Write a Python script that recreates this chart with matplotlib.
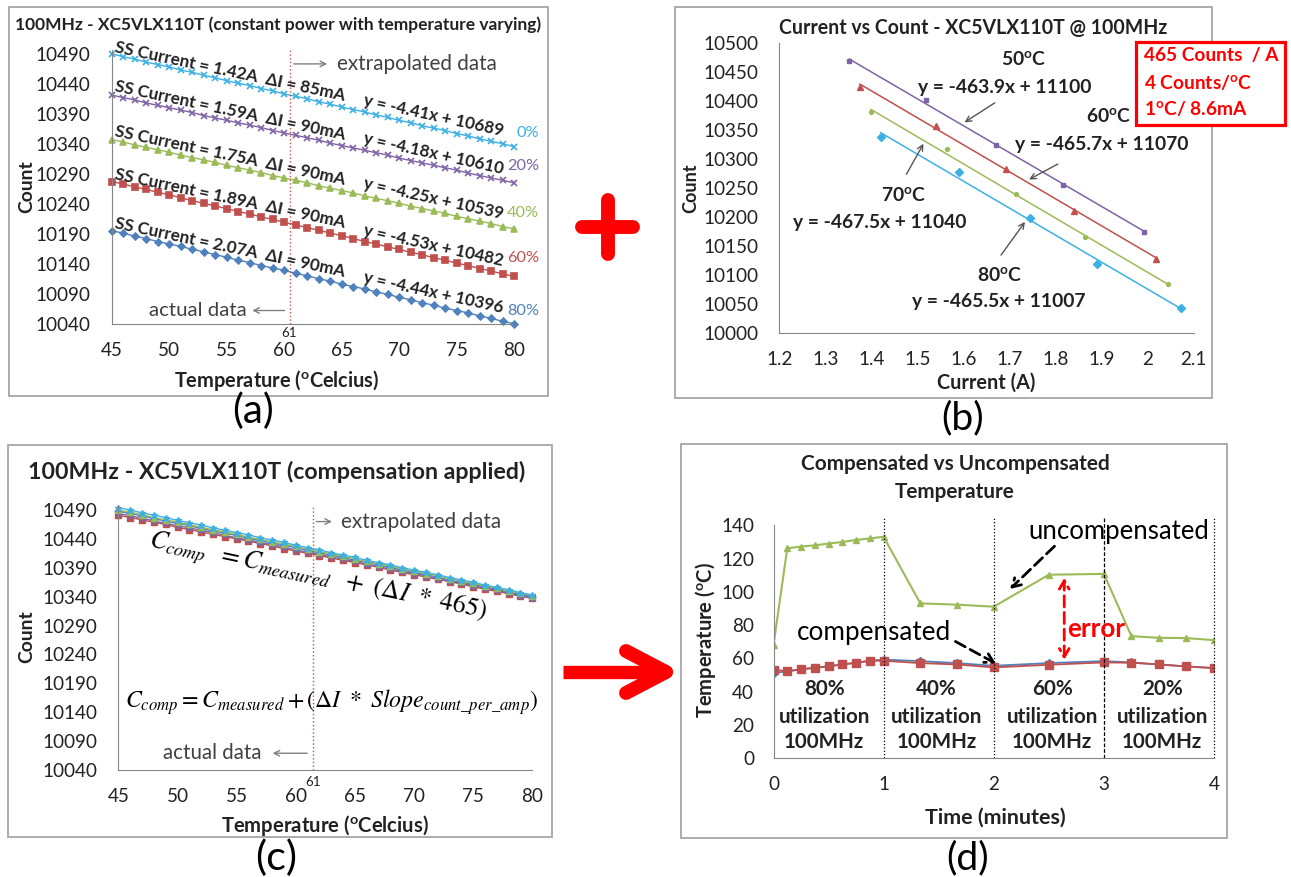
import matplotlib
matplotlib.use('Agg')
import matplotlib.pyplot as plt
from matplotlib.patches import Rectangle
from matplotlib.lines import Line2D

plt.rcParams['font.family'] = ['Lato', 'DejaVu Sans']

W, H = 1291, 877

# ---------------- data ----------------
# (a) count vs temperature, constant power, five utilisation levels
temps = list(range(45, 81))
cnt_0 = [10491, 10486, 10482, 10477, 10473, 10469, 10464, 10460, 10455, 10451, 10446, 10442,
         10438, 10433, 10429, 10424, 10420, 10416, 10411, 10407, 10402, 10398, 10394, 10389,
         10385, 10380, 10376, 10371, 10367, 10363, 10358, 10354, 10349, 10345, 10341, 10336]
cnt_20 = [10422, 10418, 10414, 10409, 10405, 10401, 10397, 10393, 10388, 10384, 10380, 10376,
          10372, 10368, 10363, 10359, 10355, 10351, 10347, 10342, 10338, 10334, 10330, 10326,
          10322, 10317, 10313, 10309, 10305, 10301, 10297, 10292, 10288, 10284, 10280, 10276]
cnt_40 = [10348, 10344, 10339, 10335, 10331, 10327, 10322, 10318, 10314, 10310, 10305, 10301,
          10297, 10293, 10288, 10284, 10280, 10276, 10271, 10267, 10263, 10259, 10254, 10250,
          10246, 10242, 10237, 10233, 10229, 10225, 10220, 10216, 10212, 10208, 10203, 10199]
cnt_60 = [10278, 10274, 10269, 10265, 10260, 10256, 10251, 10246, 10242, 10237, 10233, 10228,
          10224, 10219, 10215, 10210, 10206, 10201, 10197, 10192, 10188, 10183, 10178, 10174,
          10169, 10165, 10160, 10156, 10151, 10147, 10142, 10138, 10133, 10129, 10124, 10120]
cnt_80 = [10196, 10192, 10187, 10183, 10178, 10174, 10170, 10165, 10161, 10156, 10152, 10147,
          10143, 10138, 10134, 10130, 10125, 10121, 10116, 10112, 10107, 10103, 10099, 10094,
          10090, 10085, 10081, 10076, 10072, 10067, 10063, 10059, 10054, 10050, 10045, 10041]
util_labels = ['0%', '20%', '40%', '60%', '80%']
util_label_y = [10359, 10303, 10226, 10150, 10062]
ss_current = ['1.42A', '1.59A', '1.75A', '1.89A', '2.07A']
delta_i = ['85mA', '90mA', '90mA', '90mA', '90mA']
fit_a = ['y = -4.41x + 10689', 'y = -4.18x + 10610', 'y = -4.25x + 10539',
         'y = -4.53x + 10482', 'y = -4.44x + 10396']

# (b) count vs current at four temperatures
cur_50 = [1.352, 1.518, 1.670, 1.816, 1.992]
cnt_50 = [10469, 10402, 10325, 10256, 10175]
cur_60 = [1.375, 1.540, 1.692, 1.839, 2.019]
cnt_60b = [10425, 10358, 10284, 10211, 10128]
cur_70 = [1.399, 1.564, 1.714, 1.863, 2.045]
cnt_70 = [10381, 10318, 10241, 10166, 10085]
cur_80 = [1.420, 1.590, 1.744, 1.890, 2.072]
cnt_80b = [10339, 10278, 10199, 10120, 10043]
slopes_b = [-463.9, -465.7, -467.5, -465.5]
icepts_b = [11100, 11070, 11040, 11007]
temp_labels_b = ['50', '60', '70', '80']

# (c) compensated counts
comp_0 = [10494, 10490, 10485, 10481, 10477, 10472, 10468, 10464, 10459, 10455, 10451, 10447,
          10442, 10438, 10434, 10429, 10425, 10421, 10416, 10412, 10408, 10403, 10399, 10395,
          10390, 10386, 10382, 10378, 10373, 10369, 10365, 10360, 10356, 10352, 10347, 10343]
comp_20 = [10484, 10480, 10476, 10471, 10467, 10463, 10459, 10455, 10451, 10446, 10442, 10438,
           10434, 10430, 10426, 10421, 10417, 10413, 10409, 10405, 10401, 10396, 10392, 10388,
           10384, 10380, 10376, 10371, 10367, 10363, 10359, 10355, 10351, 10346, 10342, 10338]
comp_40 = [10490, 10486, 10482, 10477, 10473, 10469, 10465, 10460, 10456, 10452, 10448, 10443,
           10439, 10435, 10431, 10427, 10422, 10418, 10414, 10410, 10405, 10401, 10397, 10393,
           10388, 10384, 10380, 10376, 10371, 10367, 10363, 10359, 10355, 10350, 10346, 10342]
comp_60 = [10481, 10477, 10473, 10469, 10465, 10460, 10456, 10452, 10448, 10444, 10440, 10436,
           10432, 10428, 10423, 10419, 10415, 10411, 10407, 10403, 10399, 10395, 10391, 10386,
           10382, 10378, 10374, 10370, 10366, 10362, 10357, 10353, 10349, 10345, 10341, 10337]
comp_80 = [10488, 10484, 10480, 10475, 10471, 10467, 10463, 10458, 10454, 10450, 10446, 10441,
           10437, 10433, 10429, 10425, 10420, 10416, 10412, 10408, 10403, 10399, 10395, 10391,
           10386, 10382, 10378, 10374, 10369, 10365, 10361, 10357, 10353, 10348, 10344, 10340]

# (d) temperature over time
time_min = [0, 0.125, 0.25, 0.375, 0.5, 0.625, 0.75, 0.875, 1.0, 1.333, 1.667, 2.0,
            2.5, 3.0, 3.25, 3.5, 3.75, 4.0]
temp_uncomp = [68.0, 126.2, 127.2, 128.0, 129.0, 130.0, 131.2, 132.1, 133.1, 93.1, 92.3, 91.1,
               110.3, 110.8, 73.4, 72.4, 72.2, 71.0]
temp_comp = [53.3, 52.3, 53.5, 54.4, 55.2, 56.4, 57.4, 58.6, 58.6, 57.2, 56.4, 54.6,
             56.2, 57.6, 57.4, 56.4, 55.2, 54.2]
temp_comp2 = [51.2, 52.3, 53.4, 54.4, 55.3, 56.4, 57.4, 58.6, 59.3, 58.4, 57.2, 55.6,
              57.2, 58.4, 57.6, 56.4, 55.2, 54.2]
phase_util = ['80%', '40%', '60%', '20%']

# ---------------- helpers ----------------
CYAN, PURPLE, GREEN, RED, BLUE = '#3CB0E2', '#7F63A6', '#9BBB59', '#C0504D', '#4F81BD'
TXT = '#222222'
TICK = 13.6

fig = plt.figure(figsize=(W / 100, H / 100), dpi=100)
renderer = fig.canvas.get_renderer()


def px_axes(l, t, r, b):
    ax = fig.add_axes([l / W, 1 - b / H, (r - l) / W, (b - t) / H])
    for s in ['top', 'right']:
        ax.spines[s].set_visible(False)
    for s in ['left', 'bottom']:
        ax.spines[s].set_color('#868686')
    ax.tick_params(length=0, labelsize=TICK, colors=TXT)
    return ax


def px_box(l, t, r, b, color='#A6A6A6', lw=1.3):
    fig.add_artist(Rectangle((l / W, 1 - b / H), (r - l) / W, (b - t) / H,
                             transform=fig.transFigure, fill=False, ec=color, lw=lw))


def px_text(x, y, s, **kw):
    kw.setdefault('ha', 'center')
    kw.setdefault('va', 'center')
    kw.setdefault('color', TXT)
    return fig.text(x / W, 1 - y / H, s, **kw)


def px_line(xs, ys, **kw):
    fig.add_artist(Line2D([x / W for x in xs], [1 - y / H for y in ys], **kw))


def fit(t, size_px, rot=None, vertical=False):
    # scale font so the text spans size_px pixels (measured unrotated)
    bb = t.get_window_extent(renderer)
    cur = bb.height if vertical else bb.width
    t.set_fontsize(t.get_fontsize() * size_px / cur)
    if rot is not None:
        t.set_rotation(rot)
    return t


deg = r'$^{\mathregular{o}}$'

# ---------------- (a) ----------------
px_box(9, 7, 548, 396)
ax = px_axes(111.5, 50.1, 514, 324.3)
series_a = [(cnt_0, CYAN, 'x', 4.5), (cnt_20, PURPLE, 'x', 4.5), (cnt_40, GREEN, '^', 4.5),
            (cnt_60, RED, 's', 5), (cnt_80, BLUE, 'D', 3.5)]
for i, (vals, col, mk, ms) in enumerate(series_a):
    ax.plot(temps, vals, color=col, lw=1.0, marker=mk, ms=ms, mew=1.2, clip_on=False)
    t = ax.text(55.3, vals[10] + 16, f'SS Current = {ss_current[i]}  \u0394I = {delta_i[i]}',
                rotation_mode='anchor', ha='center', va='center',
                fontsize=12, fontweight='bold', color=TXT)
    fit(t, 235, rot=-12)
    t = ax.text(73.0, vals[28] + 20, fit_a[i], rotation_mode='anchor',
                ha='center', va='center', fontsize=12, fontweight='bold', color=TXT)
    fit(t, 143, rot=-12.5)
    t = ax.text(82.2, util_label_y[i], util_labels[i], color=col, fontsize=13, ha='right', va='center')
    if i == 1:
        fit(t, 32)
        util_fs = t.get_fontsize()
    elif i > 1:
        t.set_fontsize(util_fs)
ax.texts[2].set_fontsize(util_fs)
ax.set_xlim(45, 80)
ax.set_ylim(10040, 10497)
ax.set_xticks(range(45, 81, 5))
ax.set_yticks(range(10040, 10491, 50))
ax.tick_params(axis='y', pad=15)
ax.tick_params(axis='x', pad=13)
ax.axvline(60.5, color=RED, lw=1, ls=':')
ax.annotate('', xy=(64.0, 10474), xytext=(60.6, 10474),
            arrowprops=dict(arrowstyle='->', color='#808080', lw=1))
fit(ax.text(64.6, 10474, 'extrapolated data', fontsize=14, color='#404040', va='center'), 160)
ax.annotate('', xy=(57.0, 10063), xytext=(60.3, 10063),
            arrowprops=dict(arrowstyle='->', color='#808080', lw=1))
fit(ax.text(56.8, 10063, 'actual data', fontsize=14, color='#404040', va='center', ha='right'), 98)
px_text(289, 333, '61', fontsize=9.5)
fit(px_text(278, 25, '100MHz - XC5VLX110T (constant power with temperature varying)',
            fontsize=12, fontweight='bold'), 524)
fit(px_text(27, 187, 'Count', rotation=90, fontsize=14, fontweight='bold'), 53, vertical=True)
fit(px_text(277, 381, 'Temperature (' + deg + 'Celcius)', fontsize=14, fontweight='bold'), 206)
fit(px_text(253, 411, '(a)', fontsize=24, color='black'), 42)

# ---------------- (b) ----------------
px_box(675, 7, 1212, 398)
ax = px_axes(779.3, 43.3, 1193.8, 333.3)
series_b = [(cur_50, cnt_50, PURPLE, 's', 3.5), (cur_60, cnt_60b, RED, '^', 4),
            (cur_70, cnt_70, GREEN, 'o', 2.8), (cur_80, cnt_80b, CYAN, 'D', 4)]
for i, (xs, ys, col, mk, ms) in enumerate(series_b):
    ax.plot(xs, ys, ls='none', marker=mk, ms=ms, color=col)
    xe = [min(xs), max(xs)]
    ax.plot(xe, [slopes_b[i] * x + icepts_b[i] for x in xe], color=col, lw=1.1)
ax.set_xlim(1.2, 2.1)
ax.set_ylim(10000, 10500)
ax.set_xticks([1.2, 1.3, 1.4, 1.5, 1.6, 1.7, 1.8, 1.9, 2.0, 2.1])
ax.set_xticklabels(['1.2', '1.3', '1.4', '1.5', '1.6', '1.7', '1.8', '1.9', '2', '2.1'])
ax.set_yticks(range(10000, 10501, 50))
ax.tick_params(axis='y', pad=15)
ax.tick_params(axis='x', pad=13)
lab_pos = [(1.731, 10471), (1.916, 10373), (1.471, 10238), (1.678, 10099)]
eq_pos = [(1.689, 10423), (1.899, 10325), (1.419, 10191), (1.676, 10054)]
arrows_b = [((1.673, 10400), (1.597, 10361)), ((1.810, 10294), (1.737, 10263)),
            ((1.473, 10270), (1.516, 10331)), ((1.678, 10131), (1.737, 10196))]
t = ax.text(0, 0, 'y = -463.9x + 11100', fontsize=13, fontweight='bold')
fit(t, 173)
b_fs = t.get_fontsize()
t.remove()
for i in range(4):
    ax.text(*lab_pos[i], temp_labels_b[i] + deg + 'C', fontsize=b_fs, fontweight='bold',
            ha='center', va='center', color=TXT)
    ax.text(*eq_pos[i], f'y = {slopes_b[i]}x + {icepts_b[i]}', fontsize=b_fs,
            fontweight='bold', ha='center', va='center', color=TXT)
    ax.annotate('', xy=arrows_b[i][1], xytext=arrows_b[i][0],
                arrowprops=dict(arrowstyle='->', color='#555555', lw=1))
fit(px_text(973, 28, 'Current vs Count - XC5VLX110T @ 100MHz', fontsize=14, fontweight='bold'), 390)
fit(px_text(691, 188, 'Count', rotation=90, fontsize=14, fontweight='bold'), 50, vertical=True)
fit(px_text(986, 383, 'Current (A)', fontsize=14, fontweight='bold'), 99)
fit(px_text(963, 418, '(b)', fontsize=24, color='black'), 43)
fig.add_artist(Rectangle((1136 / W, 1 - 125 / H), 149 / W, 83.3 / H, transform=fig.transFigure,
                         fc='white', ec='red', lw=2.3))
t = px_text(1144, 55, '465 Counts  / A', ha='left', fontsize=14, fontweight='bold', color='red')
fit(t, 136)
for y, s in zip([83.3, 109.3], ['4 Counts/' + deg + 'C', '1' + deg + 'C/ 8.6mA']):
    px_text(1144, y, s, ha='left', fontsize=t.get_fontsize(), fontweight='bold', color='red')

# big plus
px_line([582, 633], [226.7, 226.7], lw=10, color='red', solid_capstyle='round')
px_line([607.5, 607.5], [200, 253.5], lw=10, color='red', solid_capstyle='round')

# ---------------- (c) ----------------
px_box(8, 445, 552, 837)
ax = px_axes(118.4, 505.4, 532.3, 770)
series_c = [(comp_60, RED, 's', 4.5), (comp_20, PURPLE, 'x', 4.5), (comp_80, BLUE, 'D', 3.5),
            (comp_40, GREEN, '^', 4.5), (comp_0, CYAN, '*', 5)]
for vals, col, mk, ms in series_c:
    ax.plot(temps, vals, color=col, lw=1.0, marker=mk, ms=ms, mew=1.0, clip_on=False)
ax.set_xlim(45, 80)
ax.set_ylim(10040, 10498)
ax.set_xticks(range(45, 81, 5))
ax.set_yticks(range(10040, 10491, 50))
ax.tick_params(axis='y', pad=15)
ax.tick_params(axis='x', pad=13)
ax.axvline(61.45, color=RED, lw=1, ls=':')
ax.annotate('', xy=(63.3, 10470), xytext=(61.5, 10470),
            arrowprops=dict(arrowstyle='->', color='#808080', lw=1))
fit(ax.text(63.8, 10470, 'extrapolated data', fontsize=14, color='#404040', va='center'), 161)
ax.annotate('', xy=(57.8, 10069), xytext=(61.2, 10069),
            arrowprops=dict(arrowstyle='->', color='#808080', lw=1))
fit(ax.text(57.1, 10069, 'actual data', fontsize=14, color='#404040', va='center', ha='right'), 99)
t = ax.text(61.9, 10374, r'$C_{comp}\ \ =C_{measured}\ \ +\ (\Delta I\ *\ 465)$',
            math_fontfamily='stix', fontsize=19, rotation_mode='anchor',
            ha='center', va='center', color='black')
fit(t, 345, rot=-12)
t = ax.text(63.05, 10158, r'$C_{comp}=C_{measured}+(\Delta I\ *\ Slope_{count\_per\_amp})$',
            math_fontfamily='stix', fontsize=17, ha='center', va='center', color='black')
fit(t, 413)
px_text(313, 782, '61', fontsize=9.5)
fit(px_text(277, 472, '100MHz - XC5VLX110T (compensation applied)', fontsize=16, fontweight='bold'), 496)
fit(px_text(27, 637, 'Count', rotation=90, fontsize=14, fontweight='bold'), 53, vertical=True)
fit(px_text(325, 825, 'Temperature (' + deg + 'Celcius)', fontsize=14, fontweight='bold'), 209)
fit(px_text(276, 858, '(c)', fontsize=24, color='black'), 42)

# big arrow
px_line([562.7, 652], [672.3, 672.3], lw=9.6, color='red', solid_capstyle='butt')
px_line([626, 666], [651, 672], lw=10, color='red', solid_capstyle='round')
px_line([626, 666], [693, 672], lw=10, color='red', solid_capstyle='round')

# ---------------- (d) ----------------
px_box(681, 444, 1227, 838)
ax = px_axes(773.5, 525.3, 1214, 758.3)
ax.plot(time_min, temp_comp2, color=BLUE, lw=1.3, marker='D', ms=4)
ax.plot(time_min, temp_comp, color=RED, lw=1.3, marker='s', ms=5.5)
ax.plot(time_min, temp_uncomp, color=GREEN, lw=1.5, marker='^', ms=5)
for tm, ls in zip([1, 2, 3, 4], [':', ':', (0, (3, 1.5)), ':']):
    ax.plot([tm, tm], [0, 145], color='black', lw=0.9, ls=ls, clip_on=False)
ax.set_xlim(0, 4)
ax.set_ylim(0, 140)
ax.set_xticks([0, 1, 2, 3, 4])
ax.set_yticks(range(0, 141, 20))
ax.tick_params(axis='y', pad=14)
ax.tick_params(axis='x', pad=13)
t = ax.text(0, 0, 'utilization', fontsize=14, fontweight='bold')
fit(t, 92)
u_fs = t.get_fontsize()
t.remove()
for xc, u in zip([0.46, 1.48, 2.53, 3.53], phase_util):
    for yy, s in zip([41.4, 25, 9.5], [u, 'utilization', '100MHz']):
        ax.text(xc, yy, s, ha='center', va='center', fontsize=u_fs, fontweight='bold', color=TXT)
fit(ax.text(3.14, 136.5, 'uncompensated', ha='center', va='center', fontsize=19, color='black'), 181)
fit(ax.text(0.915, 75.3, 'compensated', ha='center', va='center', fontsize=19, color='black'), 154)
ax.annotate('', xy=(2.13, 100.6), xytext=(2.57, 128.6),
            arrowprops=dict(arrowstyle='->,head_length=0.6,head_width=0.35', ls=(0, (4, 2)),
                            lw=2, color='black'))
ax.annotate('', xy=(2.04, 56.2), xytext=(1.63, 71),
            arrowprops=dict(arrowstyle='->,head_length=0.6,head_width=0.35', ls=(0, (4, 2)),
                            lw=2, color='black'))
ax.annotate('', xy=(2.64, 110), xytext=(2.64, 57.6),
            arrowprops=dict(arrowstyle='<->,head_length=0.6,head_width=0.35', ls=(0, (4, 2)),
                            lw=2, color='red'))
fit(ax.text(2.67, 77.6, 'error', ha='left', va='center', fontsize=20, fontweight='bold', color='red'), 58)
t = px_text(955, 464, 'Compensated vs Uncompensated', fontsize=15, fontweight='bold')
fit(t, 310)
px_text(955, 492, 'Temperature', fontsize=t.get_fontsize(), fontweight='bold')
fit(px_text(705.5, 640, 'Temperature (' + deg + 'C)', rotation=90, fontsize=14, fontweight='bold'),
    157, vertical=True)
fit(px_text(995, 818, 'Time (minutes)', fontsize=15, fontweight='bold'), 141)
fit(px_text(968, 858, '(d)', fontsize=24, color='black'), 43)

fig.savefig('out.png', dpi=100, facecolor='white')
